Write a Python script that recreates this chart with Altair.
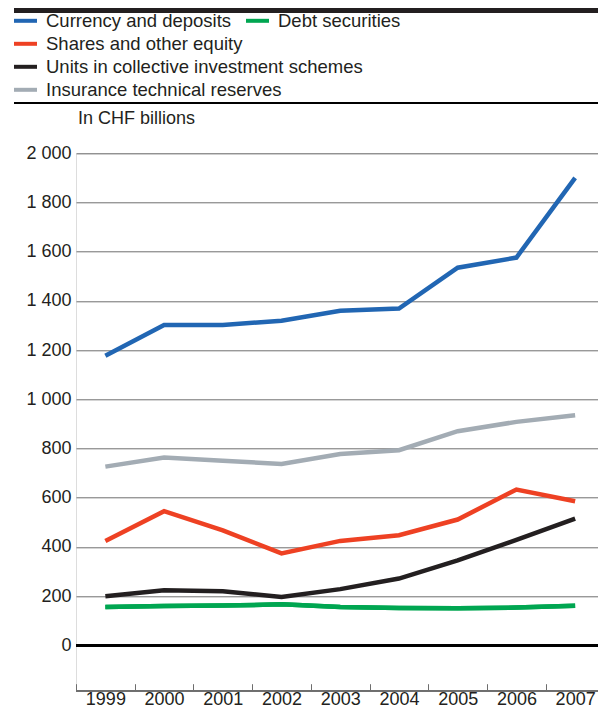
import altair as alt
import pandas as pd

years = ["1999", "2000", "2001", "2002", "2003", "2004", "2005", "2006", "2007"]
series_names = [
    "Currency and deposits",
    "Debt securities",
    "Shares and other equity",
    "Units in collective investment schemes",
    "Insurance technical reserves",
]
currency = [1177, 1302, 1302, 1319, 1360, 1369, 1535, 1576, 1900]
debt = [155, 159, 161, 166, 155, 151, 150, 153, 160]
shares = [424, 545, 467, 373, 424, 447, 511, 633, 585]
units = [199, 223, 219, 196, 228, 271, 345, 428, 515]
insurance = [726, 763, 750, 737, 777, 793, 870, 908, 935]
colors = ["#2166b3", "#00a651", "#ee4123", "#231f20", "#a3acb4"]
y_ticks = [0, 200, 400, 600, 800, 1000, 1200, 1400, 1600, 1800, 2000]

values = [currency, debt, shares, units, insurance]
rows = []
for name, vals in zip(series_names, values):
    for yr, v in zip(years, vals):
        rows.append({"year": yr, "series": name, "value": v})
df = pd.DataFrame(rows)
df_debt = df[df["series"] == "Debt securities"]

FONT = "Liberation Sans"
TXT = "#231f20"
GRID = "#6e6e6e"

x_scale = alt.Scale(type="band", paddingInner=0, paddingOuter=0, range=[0, 528.5])

x_enc = alt.X(
    "year:O",
    scale=x_scale,
    bandPosition=0.5,
    axis=alt.Axis(
        title=None, domain=False, grid=False, tickBand="extent",
        offset=-7, tickSize=7, tickColor=GRID, tickWidth=1,
        labelPadding=0, labelAngle=0, labelFontSize=18, labelFont=FONT,
        labelColor=TXT,
    ),
)
y_enc = alt.Y(
    "value:Q",
    scale=alt.Scale(domain=[-185, 2000], nice=False, zero=False),
    axis=alt.Axis(
        values=y_ticks, domain=False, ticks=False, grid=True,
        gridColor=GRID, gridWidth=1, labelPadding=5,
        labelFontSize=18, labelFont=FONT, labelColor=TXT,
        labelExpr="replace(format(datum.value, ','), ',', ' ')",
        title="In CHF billions", titleAngle=0, titleAlign="left",
        titleBaseline="middle", titleX=1.5, titleY=-35, titleFontSize=18,
        titleFont=FONT, titleFontWeight="normal", titleColor=TXT,
    ),
)

legend_common = dict(
    orient="none", direction="vertical", symbolType="stroke",
    symbolSize=529, symbolStrokeWidth=4, labelFontSize=18.5, labelFont=FONT,
    labelColor=TXT, labelOffset=7, labelLimit=500, padding=0, rowPadding=-2.1,
    legendY=-146,
)

lines = alt.Chart(df).mark_line(strokeWidth=4.5).encode(
    x=x_enc,
    y=y_enc,
    color=alt.Color(
        "series:N",
        title=None,
        sort=series_names,
        scale=alt.Scale(domain=series_names, range=colors),
        legend=alt.Legend(
            values=[series_names[0], series_names[2], series_names[3], series_names[4]],
            legendX=-64, **legend_common,
        ),
    ),
)

debt_line = alt.Chart(df_debt).mark_line(strokeWidth=4.5).encode(
    x=alt.X("year:O", bandPosition=0.5),
    y="value:Q",
    stroke=alt.Stroke(
        "series:N",
        title=None,
        scale=alt.Scale(domain=[series_names[1]], range=[colors[1]]),
        legend=alt.Legend(legendX=168, **legend_common),
    ),
)

zero_rule = alt.Chart(df).mark_rule(color="#000000", strokeWidth=2).encode(
    y=alt.datum(0)
)
base_rule = alt.Chart(df).mark_rule(color=GRID, strokeWidth=1).encode(
    y=alt.datum(-185)
)
thin_rule = alt.Chart(df).mark_rule(color="#000000", strokeWidth=1).encode(
    x=alt.value(-62), x2=alt.value(522), y=alt.value(-50)
)
thick_bar = alt.Chart(df).mark_rule(color="#231f20", strokeWidth=5).encode(
    x=alt.value(-62), x2=alt.value(522), y=alt.value(-142.8)
)

chart = alt.layer(
    base_rule, zero_rule, lines, debt_line, thin_rule, thick_bar
).properties(
    width=522,
    height=537.4,
    autosize=alt.AutoSizeParams(type="none"),
    padding={"left": 68, "top": 145.3, "right": 0, "bottom": 17.3},
).configure_view(stroke=None).configure(background="white")

chart.save("out.html", embed_options={"renderer": "svg", "actions": False})
